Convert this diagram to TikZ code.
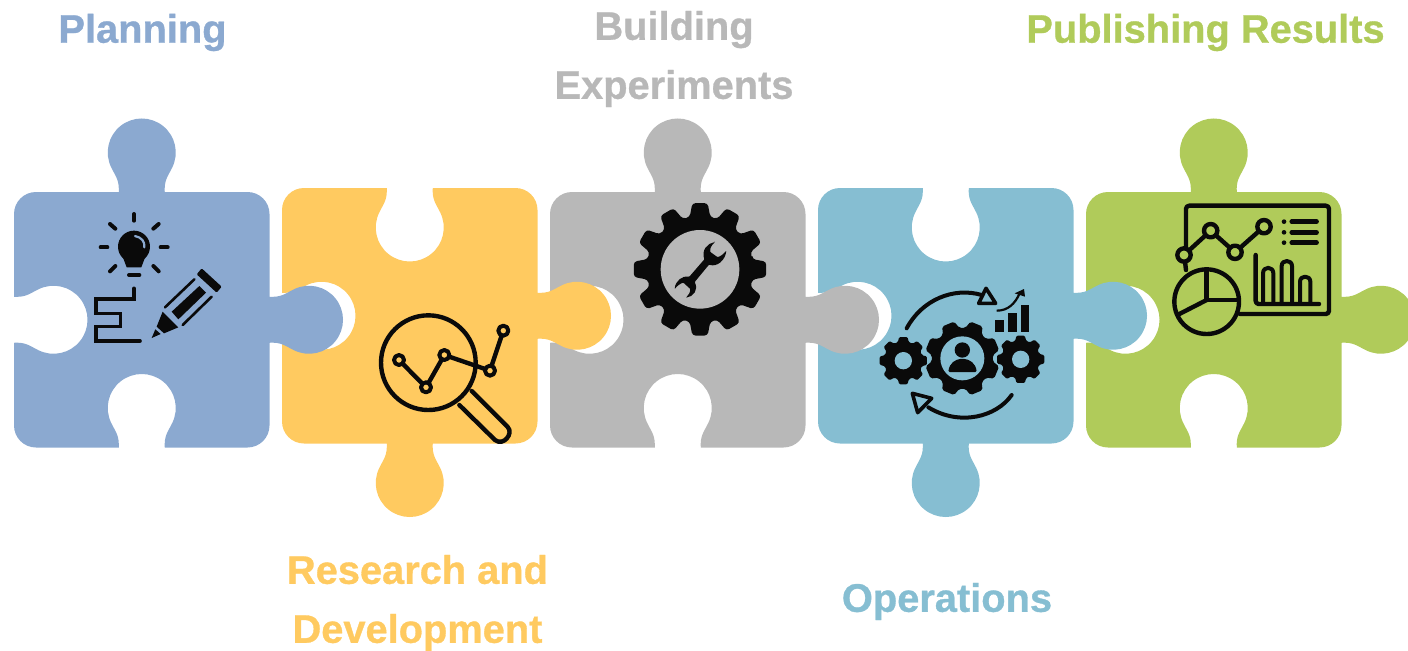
\documentclass[tikz,border=0pt]{standalone}
\usepackage{fontspec}
\setmainfont[BoldFeatures={FakeBold=0.8}]{Liberation Sans}
\definecolor{cblue}{HTML}{8BA9D0}
\definecolor{cyellow}{HTML}{FFCA60}
\definecolor{cgrey}{HTML}{B8B8B8}
\definecolor{cteal}{HTML}{86BED2}
\definecolor{cgreen}{HTML}{B0CB5A}
\definecolor{ink}{HTML}{0A0A0A}
\newcommand\feat[5]{%
 -- ([shift={(#1,#2)},rotate=#3,yscale=#4]-23,0)
 .. controls ([shift={(#1,#2)},rotate=#3,yscale=#4]-22.5,12) and ([shift={(#1,#2)},rotate=#3,yscale=#4]-25.5,14.5) .. ([shift={(#1,#2)},rotate=#3,yscale=#4]-30.5,24.5)
 .. controls ([shift={(#1,#2)},rotate=#3,yscale=#4]-37.54,38.8) and ([shift={(#1,#2)},rotate=#3,yscale=#4]-33.71,56.06) .. ([shift={(#1,#2)},rotate=#3,yscale=#4]-21.27,66.03)
 .. controls ([shift={(#1,#2)},rotate=#3,yscale=#4]-8.83,76) and ([shift={(#1,#2)},rotate=#3,yscale=#4]8.83,76) .. ([shift={(#1,#2)},rotate=#3,yscale=#4]21.27,66.03)
 .. controls ([shift={(#1,#2)},rotate=#3,yscale=#4]33.71,56.06) and ([shift={(#1,#2)},rotate=#3,yscale=#4]37.54,38.8) .. ([shift={(#1,#2)},rotate=#3,yscale=#4]30.5,24.5)
 .. controls ([shift={(#1,#2)},rotate=#3,yscale=#4]25.5,14.5) and ([shift={(#1,#2)},rotate=#3,yscale=#4]22.5,12) .. ([shift={(#1,#2)},rotate=#3,yscale=#4]23,0)
}
% colour, left, top(y up), top sign, bottom sign
\newcommand\piece[5]{%
 \fill[#1] (#2+22,#3)
  \feat{#2+127.75}{#3}{0}{#4}{}
  -- (#2+233.5,#3) arc[start angle=90,end angle=0,radius=22]
  \feat{#2+255.5}{#3-127.75}{-90}{1}{}
  -- (#2+255.5,#3-233.5) arc[start angle=0,end angle=-90,radius=22]
  \feat{#2+127.75}{#3-255.5}{180}{#5}{}
  -- (#2+22,#3-255.5) arc[start angle=270,end angle=180,radius=22]
  \feat{#2}{#3-127.75}{90}{-1}{}
  -- (#2,#3-22) arc[start angle=180,end angle=90,radius=22]
  -- cycle;
}
% centre x,y, outer, root, hole, teeth, phase, hole colour
\newcommand\gear[8]{%
 \fill[ink,rounded corners=#3*0.008pt] (#1,#2) ++(#7-360/#6*0.37:#4)
  \foreach \k in {0,...,\numexpr#6-1\relax}{
   -- ([shift={(#1,#2)}]#7+360/#6*\k-360/#6*0.37:#4)
   -- ([shift={(#1,#2)}]#7+360/#6*\k-360/#6*0.22:#3)
   -- ([shift={(#1,#2)}]#7+360/#6*\k+360/#6*0.22:#3)
   -- ([shift={(#1,#2)}]#7+360/#6*\k+360/#6*0.37:#4)
  } -- cycle;
 \fill[#8] (#1,#2) circle[radius=#5];
}
\tikzset{
 label text/.style={font=\bfseries\fontsize{19.9pt}{29.5pt}\selectfont,align=center,inner sep=0pt},
 zoomed/.style={x=.16667pt,y=-.16667pt},
 stroke/.style={ink,line width=#1,line cap=round,line join=round},
 stroke/.default=2.2pt
}
\begin{document}
\begin{tikzpicture}[x=.5pt,y=.5pt]
\useasboundingbox (0,0) rectangle (1408,650);
\clip (0,0) rectangle (1408,650);
\piece{cgreen}{1086}{458}{1}{-1}
\piece{cteal}{818}{462}{-1}{1}
\piece{cgrey}{550}{458}{1}{-1}
\piece{cyellow}{282}{462}{-1}{1}
\piece{cblue}{14}{458}{1}{-1}

% labels
\node[label text,text=cblue] (planning) at (142.5,617.5) {Planning};
\node[label text,text=cgrey] (building) at (674,591) {Building\\Experiments};
\node[label text,text=cgreen] (publishing) at (1205.5,617.5) {Publishing Results};
\node[label text,text=cyellow] (research) at (417.5,47) {Research and\\Development};
\node[label text,text=cteal] (operations) at (947,48.5) {Operations};

% icon 1: bulb, path, pencil
\begin{scope}[shift={(0,540)},zoomed]
 \fill[ink] (402,410) circle[radius=48];
 \fill[ink] (368,440) -- (436,440) -- (424,472) -- (380,472) -- cycle;
 \draw[stroke=2pt] (387,495) -- (418,495);
 \draw[cblue,line width=1.1pt,line cap=round] (405,378) .. controls (425,382) and (435,395) .. (433,412);
 \foreach \a/\b/\c/\d in {402/312/402/332, 302/412/322/412, 482/412/503/412, 330/342/346/356, 476/342/460/356, 330/484/346/468, 476/484/460/468}{
  \draw[stroke=2pt] (\a,\b) -- (\c,\d);
 }
 \draw[ink,line width=1.8pt,line cap=round,line join=miter] (402,535) -- (402,567) -- (288,567) -- (288,610) -- (362,610) -- (362,650) -- (288,650) -- (288,693) -- (420,693);
 \fill[ink,rounded corners=.5pt] (605,475) -- (665,530) -- (650,548) -- (590,493) -- cycle;
 \fill[ink] (515,605) -- (598,528) -- (618,548) -- (535,628) -- cycle;
 \draw[stroke=1.3pt] (495,592) -- (583,508);
 \draw[stroke=1.3pt] (548,645) -- (635,560);
 \fill[ink] (488,605) -- (535,652) -- (492,670) -- (470,650) -- cycle;
 \fill[ink] (455,684) -- (466,658) -- (482,672) -- cycle;
\end{scope}

% icon 2: magnifier and chart
\begin{scope}[shift={(340,360)},zoomed]
 \draw[stroke] (265,218) circle[radius=142];
 \draw[stroke] (395,303) -- (503,411) .. controls (522,430) and (490,470) .. (465,450) -- (358,345);
 \draw[stroke] (177,210) -- (258,292) -- (313,195) -- (450,242) -- (490,122);
 \foreach \p in {(177,210),(258,292),(313,195),(450,242),(490,122)}{
  \fill[cyellow] \p circle[radius=15];
  \draw[stroke=2pt] \p circle[radius=15];
 }
\end{scope}

% icon 3: gear and wrench
\begin{scope}[shift={(610,460)},zoomed]
 \gear{270}{238}{200}{160}{118}{12}{0}{cgrey}
 \fill[ink,rounded corners=.3pt] (315,156) .. controls (292,160) and (274,180) .. (283,208)
  -- (238,260) .. controls (218,256) and (196,272) .. (194,297)
  .. controls (202,287) and (212,280) .. (220,278) -- (240,296) .. controls (242,305) and (236,315) .. (228,323)
  .. controls (250,320) and (266,300) .. (254,276)
  -- (297,224) .. controls (322,232) and (346,210) .. (349,182)
  .. controls (340,193) and (330,200) .. (322,201) -- (301,186) .. controls (299,175) and (305,165) .. (315,156) -- cycle;
\end{scope}

% icon 4: gears, person, arrows, bars
\begin{scope}[shift={(860,380)},zoomed]
 \gear{130}{272}{72}{58}{26}{8}{0}{cteal}
 \gear{482}{268}{72}{58}{26}{8}{0}{cteal}
 \gear{307}{265}{113}{92}{66}{8}{22.5}{cteal}
 \fill[ink] (307,240) circle[radius=23];
 \fill[ink,rounded corners=.6pt] (265,306) .. controls (268,280) and (285,268) .. (307,266) .. controls (330,268) and (347,280) .. (350,306) -- cycle;
 \draw[stroke=2pt] (140,175) .. controls (185,90) and (280,50) .. (365,75);
 \draw[ink,line width=1.8pt,line join=round] (378,55) -- (407,100) -- (356,100) -- cycle;
 \draw[stroke=2pt] (455,375) .. controls (410,440) and (300,470) .. (205,412);
 \draw[ink,line width=1.8pt,line join=round] (157,370) -- (215,385) -- (173,428) -- cycle;
 \fill[ink] (405,150) rectangle (432,186);
 \fill[ink] (445,130) rectangle (471,186);
 \fill[ink] (482,105) rectangle (506,186);
 \draw[ink,line width=1.1pt] (410,122) .. controls (445,122) and (465,100) .. (478,72);
 \fill[ink] (492,57) -- (495,80) -- (464,70) -- cycle;
\end{scope}

% icon 5: dashboard
\begin{scope}[shift={(1160,460)},zoomed]
 \draw[stroke,rounded corners=1.6pt] (78,170) -- (78,47) -- (507,47) -- (507,372) -- (240,372);
 \draw[stroke] (140,335) circle[radius=97];
 \draw[stroke] (140,240) -- (140,330) -- (232,330);
 \draw[stroke] (140,330) -- (58,372);
 \draw[stroke] (72,195) -- (152,122) -- (225,187) -- (312,110);
 \draw[stroke] (75,215) -- (78,240);
 \foreach \p in {(72,195),(152,122),(225,187),(312,110)}{
  \fill[cgreen] \p circle[radius=20];
  \draw[stroke] \p circle[radius=20];
 }
 \foreach \y in {95,127,158}{
  \fill[ink] (372,\y) circle[radius=7];
  \draw[stroke] (395,\y) -- (470,\y);
 }
 \draw[stroke,rounded corners=1.5pt] (287,195) -- (287,342) -- (477,342);
 \draw[stroke=2pt] (309,340) -- (309,250) .. controls (309,228) and (340,228) .. (340,250) -- (340,340);
 \draw[stroke=2pt] (365,340) -- (365,228) .. controls (365,208) and (396,208) .. (396,228) -- (396,340);
 \draw[stroke=2pt] (420,340) -- (420,275) .. controls (420,255) and (451,255) .. (451,275) -- (451,340);
\end{scope}
\end{tikzpicture}
\end{document}
